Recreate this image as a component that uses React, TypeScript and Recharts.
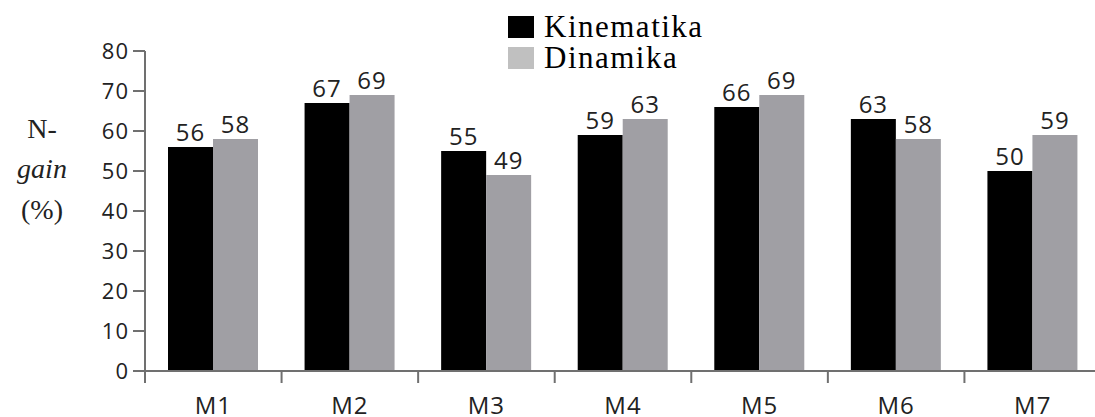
import React from "react";
import { BarChart, Bar, XAxis, YAxis, LabelList, Legend } from "recharts";

const categories = ["M1", "M2", "M3", "M4", "M5", "M6", "M7"];
const kinematika = [56, 67, 55, 59, 66, 63, 50];
const dinamika = [58, 69, 49, 63, 69, 58, 59];
const yTicks = [0, 10, 20, 30, 40, 50, 60, 70, 80];
const seriesNames = ["Kinematika", "Dinamika"];

const data = categories.map((m, i) => ({ m, k: kinematika[i], d: dinamika[i] }));

const axisColor = "#707070";
const textColor = "#222";
const sans = "Open Sans, DejaVu Sans, sans-serif";
const serif = "Liberation Serif, Times New Roman, serif";

function XTick(props: any) {
  const { x, y, payload } = props;
  const half = payload && payload.offset ? payload.offset : 68.3;
  return (
    <g>
      <line x1={x - half} x2={x - half} y1={y - 12} y2={y} stroke={axisColor} strokeWidth={2} />
      <text x={x} y={y + 31} textAnchor="middle" fill={textColor} fontSize={24} fontFamily={sans} letterSpacing={1}>
        {payload.value}
      </text>
    </g>
  );
}

function YLabel(props: any) {
  const vb = props.viewBox || { x: 0, y: 51 };
  const cx = vb.x + 42;
  const st = { fill: textColor, fontFamily: serif, fontSize: 28 };
  return (
    <g>
      <text x={cx} y={vb.y + 87} textAnchor="middle" style={st}>N-</text>
      <text x={cx} y={vb.y + 127} textAnchor="middle" style={{ ...st, fontStyle: "italic" }}>gain</text>
      <text x={cx} y={vb.y + 168} textAnchor="middle" style={st}>(%)</text>
    </g>
  );
}

function LegendBox() {
  const colors = ["#000000", "#c0c0c0"];
  return (
    <div style={{ fontFamily: serif, fontSize: 31, color: "#000", letterSpacing: 1.5 }}>
      {seriesNames.map((n, i) => (
        <div key={n} style={{ display: "flex", alignItems: "center", height: 31, lineHeight: "31px" }}>
          <span style={{ width: 26, height: 22, background: colors[i], marginRight: 10, display: "inline-block" }} />
          <span>{n}</span>
        </div>
      ))}
    </div>
  );
}

export default function App() {
  return (
    <div style={{ position: "absolute", left: 0, top: 0, width: 1095, height: 417, overflow: "hidden", background: "#fff" }}>
      <BarChart width={1110} height={417} data={data} margin={{ top: 51, right: 9, left: 0, bottom: 0 }} barGap={0} barSize={45}>
        <Legend
          layout="horizontal"
          verticalAlign="middle"
          align="center"
          content={() => <LegendBox />}
          wrapperStyle={{ position: "absolute", left: 508, top: 11, width: "auto", height: "auto" }}
        />
        <XAxis
          dataKey="m"
          height={46}
          tickLine={false}
          tickSize={12}
          tickMargin={0}
          interval={0}
          axisLine={{ stroke: axisColor, strokeWidth: 2 }}
          tick={<XTick />}
        />
        <YAxis
          width={145}
          domain={[0, 80]}
          ticks={yTicks}
          interval={0}
          tickSize={12}
          tickMargin={4}
          axisLine={{ stroke: axisColor, strokeWidth: 2 }}
          tickLine={{ stroke: axisColor, strokeWidth: 2 }}
          tick={{ fill: textColor, fontSize: 22, fontFamily: sans, letterSpacing: 1 }}
          label={{ content: (p: any) => <YLabel {...p} /> }}
        />
        <Bar dataKey="k" name={seriesNames[0]} fill="#000000" isAnimationActive={false}>
          <LabelList dataKey="k" position="top" offset={6} fill={textColor} fontSize={24} fontFamily={sans} letterSpacing={1} />
        </Bar>
        <Bar dataKey="d" name={seriesNames[1]} fill="#a09fa4" isAnimationActive={false}>
          <LabelList dataKey="d" position="top" offset={6} fill={textColor} fontSize={24} fontFamily={sans} letterSpacing={1} />
        </Bar>
      </BarChart>
    </div>
  );
}
